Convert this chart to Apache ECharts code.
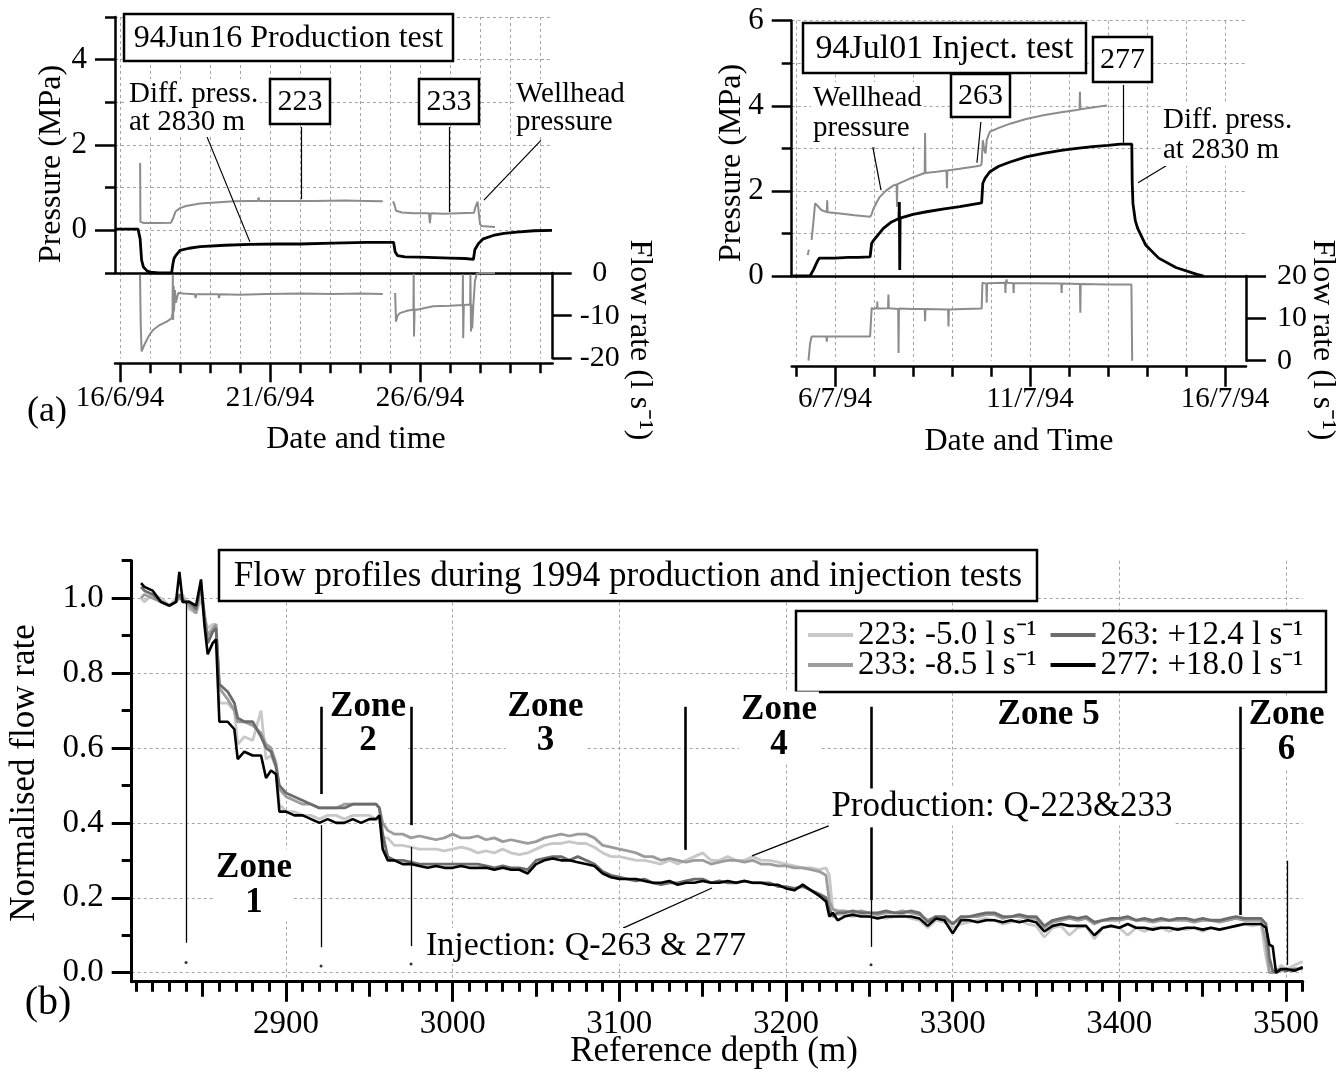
<!DOCTYPE html>
<html>
<head>
<meta charset="utf-8">
<title>Flow profiles during 1994 production and injection tests</title>
<script src="https://cdn.jsdelivr.net/npm/echarts@6.0.0/dist/echarts.min.js"></script>
<style>
html,body{margin:0;padding:0;background:#ffffff;}
#chart{width:1344px;height:1074px;}
</style>
</head>
<body>
<div id="chart"></div>
<script>
// ===== (a) left: 94Jun16 production test (x = day of June 1994) =====
const prodWellheadDays = [16.67,16.68,16.8,17.2,17.7,17.78,17.85,18.0,18.2,18.67,19.3,19.8,20.3,20.6,20.62,20.64,21.5,22.5,23.5,24.2,24.76,24.9,25.1,25.15,25.2,25.4,25.8,26.3,26.33,26.36,26.8,27.3,27.8,27.85,27.92,27.98,28.0,28.05,28.5];
const prodWellheadMPa  = [1.58,0.2,0.17,0.17,0.18,0.3,0.44,0.52,0.57,0.63,0.66,0.68,0.69,0.69,0.77,0.69,0.69,0.69,0.70,0.69,0.68,null,0.68,0.6,0.46,0.42,0.40,0.40,0.17,0.40,0.39,0.40,0.41,0.55,0.67,0.64,0.15,0.1,0.08];
const prodDiffDays = [15.85,16.6,16.67,16.72,16.78,16.9,17.0,17.3,17.72,17.76,17.8,17.85,18.0,18.3,18.67,19.5,20.33,21.2,22.0,23.1,24.2,25.12,25.17,25.25,25.5,26.0,26.5,27.0,27.5,27.78,27.83,27.95,28.11,28.44,28.8,29.22,29.8,30.4];
const prodDiffMPa  = [0.03,0.03,-0.2,-0.7,-0.86,-0.95,-0.98,-1.0,-1.0,-0.8,-0.66,-0.6,-0.47,-0.42,-0.38,-0.35,-0.33,-0.32,-0.32,-0.30,-0.28,-0.28,-0.5,-0.59,-0.62,-0.63,-0.64,-0.65,-0.66,-0.68,-0.45,-0.31,-0.2,-0.12,-0.07,-0.04,-0.01,0.0];
const prodFlowDays = [16.667,16.69,16.72,16.8,16.89,17.0,17.11,17.3,17.56,17.72,17.75,17.76,17.77,17.79,17.8,17.83,17.86,17.94,18.11,18.5,18.52,18.54,19.28,19.3,19.32,20.0,20.89,22.0,23.11,24.0,24.76,24.9,25.17,25.2,25.25,25.33,25.6,25.78,25.79,25.8,25.82,25.89,26.44,27.0,27.42,27.43,27.44,27.46,27.67,27.68,27.7,27.72,27.74,27.78,27.83,27.89,28.0,28.5];
const prodFlowLps  = [-0.4,-12,-18.4,-17,-15.7,-14.3,-13.3,-12.3,-11.4,-10.6,-9.5,-0.4,-11,-3,-9,-4,-7,-4.7,-4.8,-5.0,-5.9,-5.0,-5.0,-5.9,-5.0,-5.1,-4.9,-4.8,-4.9,-4.8,-4.9,null,-4.7,-11.4,-10,-9.4,-8.8,-8.6,-0.2,-14.9,-8.5,-8.6,-7.8,-7.7,-7.5,-0.3,-15.3,-7.5,-7.4,-0.3,-13.7,-7.4,-13.0,-7.3,-2,-0.2,0,0];
const prodDayTicks = [16,17,18,19,20,21,22,23,24,25,26,27,28,29,30];
const prodLabelDays = [16,21,26];
const prodLabels = ['16/6/94','21/6/94','26/6/94'];
const prodPressTicks = [0,2,4];

// ===== (a) right: 94Jul01 injection test (x = day of July 1994) =====
const injWellheadDays = [5.30,5.33,5.36,5.40,5.45,5.49,5.55,5.65,5.79,5.80,5.81,5.82,6.13,6.5,6.9,6.94,6.98,7.08,7.15,7.3,7.5,7.58,7.59,7.60,7.92,8.30,8.31,8.32,8.6,8.86,8.87,8.88,9.2,9.63,9.74,9.76,9.79,9.83,9.86,9.89,9.97,10.2,10.49,10.9,11.34,11.8,12.2,12.27,12.28,12.29,12.6,12.97];
const injWellheadMPa  = [0.49,0.62,null,0.85,1.3,1.71,1.65,1.55,1.50,1.78,1.50,1.50,1.47,1.43,1.39,1.45,1.57,1.75,1.86,2.0,2.13,2.15,1.63,2.16,2.29,2.42,3.36,2.42,2.45,2.48,2.06,2.48,2.52,2.58,2.60,2.65,3.19,2.95,2.88,3.2,3.39,3.48,3.58,3.69,3.78,3.85,3.90,3.91,4.33,3.92,3.96,4.01];
const injDiffDays = [4.92,5.36,5.45,5.55,5.6,6.0,6.34,6.6,6.9,6.94,7.0,7.24,7.45,7.64,7.65,7.66,7.67,8.0,8.35,8.8,9.2,9.5,9.76,9.79,9.85,9.97,10.2,10.49,10.9,11.34,11.8,12.2,12.6,13.0,13.31,13.61,13.62,13.64,13.7,13.76,13.97,14.3,14.74,15.28,15.45];
const injDiffMPa  = [0,0,0.15,0.35,0.42,0.42,0.44,0.44,0.45,0.77,0.85,1.12,1.27,1.35,1.74,0.14,1.36,1.45,1.51,1.58,1.63,1.68,1.72,2.18,2.3,2.45,2.58,2.68,2.8,2.88,2.95,3.0,3.04,3.07,3.1,3.1,2.2,1.7,1.3,1.12,0.72,0.42,0.2,0.04,0.0];
const injFlowDays = [5.32,5.36,5.40,5.6,5.78,5.79,5.80,6.4,6.9,6.93,6.94,7.0,7.08,7.085,7.09,7.36,7.37,7.38,7.62,7.63,7.64,8.0,8.3,8.31,8.32,8.9,8.91,8.92,9.3,9.76,9.78,9.88,9.89,9.9,10.36,10.37,10.38,10.4,10.41,10.57,10.58,10.59,11.0,11.8,11.81,11.82,12.28,12.29,12.30,13.0,13.6,13.62];
const injFlowLps  = [0,4,5.7,5.7,5.7,4.5,5.7,5.7,5.7,5.8,12.5,12.2,12.5,14.0,12.3,12.4,15.6,12.4,12.2,1.8,12.3,12.2,12.2,9.3,12.2,12.1,8.1,12.1,12.2,12.3,18.4,18.2,13.7,18.3,18.4,16.0,18.4,19.2,18.4,18.3,16,18.3,18.3,18.2,16.0,18.2,18.1,11.3,18.1,18.0,18.0,0];
const injDayTicks = [5,6,7,8,9,10,11,12,13,14,15,16];
const injLabelDays = [6,11,16];
const injLabels = ['6/7/94','11/7/94','16/7/94'];
const injPressTicks = [0,2,4,6];

// ===== (b) flow profiles (x = reference depth, m) =====
const depth = [2813,2815,2820,2825,2830,2834,2836,2838,2842,2846,2849,2851,2853,2856,2858,2860,2865,2869,2871,2875,2880,2885,2888,2891,2894,2896,2900,2905,2910,2915,2920,2925,2930,2935,2940,2945,2950,2954,2956,2958,
2961,2965,2970,2975,2980,2985,2990,2995,3000,3005,3010,3015,3020,3025,3030,3035,3040,3045,3050,3055,3060,3065,3070,3075,3080,3085,3090,3095,3100,3105,3110,3115,3120,3125,3130,3135,3140,3145,3150,3155,3160,3165,3170,3175,3180,3185,3190,3195,3200,3205,3210,3215,3220,
3224,3226,3228,3231,
3235,3240,3245,3250,3255,3260,3265,3270,3275,3280,3285,3290,3295,3300,3305,3310,3315,3320,3325,3330,3335,3340,3345,3350,3355,3360,3365,3370,3375,3380,3385,3390,3395,3400,3405,3410,3415,3420,3425,3430,3435,3440,3445,3450,3455,3460,3465,3470,3475,3480,3485,
3488,3490,3492,3494,3497,3500,3505,3510];
const q223 = [1.00,0.99,1.01,1.00,0.98,1.00,1.00,1.01,0.97,0.96,1.00,0.95,0.92,0.93,0.93,0.72,0.72,0.70,0.61,0.63,0.62,0.70,0.57,0.58,0.55,0.45,0.43,0.43,0.42,0.42,0.41,0.42,0.42,0.41,0.42,0.42,0.42,0.41,0.41,0.36,
0.36,0.34,0.34,0.335,0.33,0.33,0.33,0.325,0.33,0.335,0.33,0.32,0.325,0.32,0.33,0.32,0.315,0.32,0.33,0.34,0.345,0.345,0.35,0.345,0.345,0.335,0.32,0.31,0.31,0.305,0.30,0.30,0.295,0.29,0.30,0.29,0.30,0.31,0.32,0.30,0.30,0.31,0.30,0.30,0.31,0.30,0.30,0.295,0.29,0.285,0.28,0.28,0.275,
0.28,0.26,0.17,0.155,
0.155,0.15,0.155,0.15,0.15,0.145,0.15,0.155,0.145,0.14,0.12,0.14,0.135,0.12,0.13,0.135,0.14,0.145,0.14,0.13,0.135,0.14,0.13,0.125,0.095,0.12,0.125,0.10,0.12,0.125,0.09,0.12,0.125,0.12,0.10,0.12,0.11,0.12,0.12,0.11,0.12,0.115,0.12,0.11,0.12,0.115,0.12,0.125,0.13,0.125,0.13,
0.04,0.0,0.0,0.0,0.02,0.01,0.02,0.03];
const q233 = [1.00,1.01,1.00,0.99,0.98,0.99,1.00,1.00,0.98,0.96,1.03,0.96,0.90,0.92,0.93,0.76,0.73,0.70,0.67,0.67,0.66,0.64,0.61,0.60,0.56,0.49,0.47,0.46,0.45,0.45,0.44,0.44,0.44,0.45,0.45,0.45,0.45,0.45,0.44,0.40,
0.38,0.37,0.37,0.36,0.365,0.36,0.355,0.36,0.37,0.36,0.36,0.365,0.355,0.36,0.35,0.355,0.35,0.345,0.35,0.36,0.365,0.37,0.365,0.37,0.37,0.36,0.34,0.335,0.33,0.325,0.32,0.31,0.31,0.30,0.305,0.30,0.295,0.30,0.30,0.29,0.295,0.30,0.30,0.295,0.30,0.29,0.29,0.285,0.285,0.28,0.28,0.275,0.27,
0.26,0.19,0.17,0.165,
0.165,0.16,0.165,0.16,0.155,0.16,0.16,0.165,0.16,0.155,0.14,0.15,0.145,0.13,0.145,0.15,0.15,0.155,0.155,0.145,0.15,0.15,0.145,0.145,0.12,0.135,0.14,0.145,0.14,0.145,0.13,0.14,0.14,0.14,0.145,0.14,0.14,0.135,0.14,0.14,0.14,0.14,0.135,0.14,0.14,0.135,0.14,0.145,0.14,0.14,0.14,
0.08,0.0,0.0,0.01,0.005,0.01,0.005,0.015];
const q263 = [1.03,1.02,1.01,0.99,0.98,0.99,1.01,0.99,0.99,0.97,1.04,0.95,0.88,0.91,0.92,0.77,0.75,0.72,0.68,0.67,0.67,0.63,0.60,0.59,0.55,0.50,0.48,0.47,0.46,0.45,0.44,0.44,0.44,0.44,0.45,0.45,0.45,0.45,0.44,0.37,
0.31,0.30,0.30,0.295,0.29,0.29,0.29,0.29,0.29,0.29,0.29,0.29,0.285,0.28,0.285,0.28,0.28,0.275,0.30,0.305,0.31,0.31,0.30,0.31,0.30,0.29,0.27,0.26,0.255,0.25,0.245,0.25,0.24,0.235,0.24,0.24,0.245,0.25,0.25,0.24,0.245,0.24,0.24,0.245,0.24,0.24,0.24,0.23,0.23,0.225,0.23,0.22,0.21,
0.20,0.17,0.15,0.16,
0.16,0.165,0.16,0.16,0.16,0.165,0.16,0.16,0.165,0.16,0.135,0.15,0.15,0.13,0.15,0.15,0.155,0.16,0.16,0.15,0.15,0.155,0.15,0.15,0.125,0.14,0.145,0.15,0.145,0.15,0.135,0.14,0.145,0.145,0.15,0.14,0.145,0.14,0.145,0.14,0.145,0.145,0.14,0.145,0.14,0.14,0.145,0.15,0.145,0.145,0.145,
0.13,0.04,0.005,0.0,0.01,0.005,0.01,0.01];
const q277 = [1.04,1.03,1.02,0.99,0.98,0.99,1.07,0.99,0.99,0.98,1.05,0.93,0.85,0.88,0.89,0.67,0.67,0.65,0.57,0.59,0.58,0.58,0.52,0.54,0.53,0.43,0.43,0.42,0.42,0.41,0.40,0.41,0.40,0.40,0.41,0.40,0.41,0.41,0.42,0.33,
0.30,0.30,0.29,0.29,0.285,0.28,0.285,0.28,0.28,0.285,0.28,0.28,0.28,0.275,0.28,0.275,0.275,0.265,0.29,0.30,0.305,0.30,0.30,0.295,0.29,0.285,0.265,0.255,0.25,0.25,0.25,0.245,0.24,0.24,0.245,0.235,0.24,0.24,0.245,0.24,0.24,0.245,0.24,0.245,0.24,0.24,0.235,0.235,0.225,0.22,0.235,0.22,0.205,
0.19,0.15,0.16,0.14,
0.15,0.155,0.15,0.15,0.145,0.15,0.15,0.15,0.15,0.145,0.125,0.145,0.14,0.105,0.14,0.14,0.135,0.14,0.14,0.135,0.14,0.135,0.14,0.135,0.11,0.125,0.13,0.125,0.125,0.125,0.10,0.12,0.125,0.12,0.13,0.12,0.12,0.115,0.12,0.12,0.115,0.12,0.12,0.115,0.12,0.115,0.12,0.125,0.13,0.13,0.13,
0.12,0.075,0.07,0.0,0.01,0.01,0.005,0.015];
const profileNames = ['223: -5.0 l s\u207B\u00B9','233: -8.5 l s\u207B\u00B9','263: +12.4 l s\u207B\u00B9','277: +18.0 l s\u207B\u00B9'];
const depthMajorTicks = [2900,3000,3100,3200,3300,3400,3500];
const depthMidTicks = [2850,2950,3050,3150,3250,3350,3450];
const nfMinorTicks = [0,0.1,0.2,0.3,0.4,0.5,0.6,0.7,0.8,0.9,1.0,1.1];
const nfMajorTicks = [0,0.2,0.4,0.6,0.8,1.0];
const depthMinorTicks = [];
for (let d = 2810; d <= 3510; d += 10) depthMinorTicks.push(d);

// annotation lines, in data units: [x, y1, y2] or [x1, y1, x2, y2]
const zoneThick = [[2921,0.71,0.477],[2975,0.71,0.394],[3139.5,0.71,0.328],[3251,0.71,0.488],[3251,0.388,0.194],[3472.5,0.71,0.154]];
const zoneThin  = [[2840,0.99,0.08],[2921,0.394,0.068],[2975,0.336,0.071],[3251,0.194,0.069],[3501,0.299,0.021]];
const zoneDots  = [[2840,0.027],[2921,0.018],[2975,0.023],[3251,0.021]];
const prodLeaders = [[22.03,2.42,22.03,0.73],[18.9,2.19,20.33,-0.27],[26.97,2.42,26.97,0.43],[30.03,2.11,28.13,0.71]];
const injLeaders  = [[6.97,3.03,7.18,2.02],[9.74,3.62,9.64,2.66],[13.38,4.49,13.38,3.13],[14.62,2.66,13.77,2.19]];
const profLeaders = [[3225.6,0.392,3179.6,0.312],[3102.2,0.119,3155.6,0.226]];

// ---------------------------------------------------------------
const FONT = '"Liberation Serif","Times New Roman",Times,serif';
const GRAY = '#8c8c8c';
const COLORS = ['#c8c8c8','#9c9c9c','#6c6c6c','#000000'];
const zip = (a, b) => a.map((x, i) => [x, b[i]]);
const dash = {show:true, lineStyle:{color:'#a4a4a4', width:1, type:[3,3]}};
const noSplit = {show:false};
const aLine = w => ({show:true, onZero:false, lineStyle:{color:'#000', width:w}});
const noLine = {show:false, onZero:false};
const tick = (len, w, extra) => Object.assign({show:true, inside:false, length:len, lineStyle:{color:'#000', width:w}}, extra || {});
const lbl = (size, extra) => Object.assign({show:true, color:'#000', fontFamily:FONT, fontSize:size}, extra || {});

const PROD_MIN = 15.833, PROD_MAX = 30.423;
const INJ_MIN = 4.89, INJ_MAX = 16.538;
const DEP_MIN = 2807.4, DEP_MAX = 3510;
const NF_MIN = -0.024, NF_MAX = 1.1;

const xAxis = [
  {gridIndex:0, type:'value', position:'bottom', min:PROD_MIN, max:PROD_MAX, axisLine:aLine(2.5), axisTick:{show:false, customValues:prodDayTicks}, axisLabel:{show:false}, splitLine:dash},
  {gridIndex:1, type:'value', position:'bottom', offset:5, min:PROD_MIN, max:PROD_MAX, axisLine:aLine(2.5), axisTick:tick(10,2.5,{customValues:prodDayTicks}), axisLabel:{show:false}, splitLine:dash},
  {gridIndex:1, type:'value', position:'bottom', offset:5, min:PROD_MIN, max:PROD_MAX, axisLine:noLine, axisTick:tick(19,2.5,{customValues:prodLabelDays}), axisLabel:lbl(29,{customValues:prodLabelDays, margin:21, formatter:v => prodLabels[prodLabelDays.indexOf(v)]}), splitLine:noSplit},
  {gridIndex:2, type:'value', position:'bottom', min:INJ_MIN, max:INJ_MAX, axisLine:aLine(2.5), axisTick:{show:false, customValues:injDayTicks}, axisLabel:{show:false}, splitLine:dash},
  {gridIndex:3, type:'value', position:'bottom', offset:6, min:INJ_MIN, max:INJ_MAX, axisLine:aLine(2.5), axisTick:tick(10,2.5,{customValues:injDayTicks}), axisLabel:{show:false}, splitLine:dash},
  {gridIndex:3, type:'value', position:'bottom', offset:6, min:INJ_MIN, max:INJ_MAX, axisLine:noLine, axisTick:tick(20,2.5,{customValues:injLabelDays}), axisLabel:lbl(29,{customValues:injLabelDays, margin:18, formatter:v => injLabels[injLabelDays.indexOf(v)]}), splitLine:noSplit},
  {gridIndex:4, type:'value', position:'bottom', min:DEP_MIN, max:DEP_MAX, axisLine:aLine(3), axisTick:tick(10,3,{customValues:depthMinorTicks}), axisLabel:{show:false}, splitLine:noSplit},
  {gridIndex:4, type:'value', position:'bottom', min:DEP_MIN, max:DEP_MAX, axisLine:noLine, axisTick:tick(15,3,{customValues:depthMidTicks}), axisLabel:{show:false}, splitLine:noSplit},
  {gridIndex:4, type:'value', position:'bottom', min:DEP_MIN, max:DEP_MAX, axisLine:noLine, axisTick:tick(20,3,{customValues:depthMajorTicks}), axisLabel:lbl(33,{customValues:depthMajorTicks, margin:26, formatter:v => String(v)}), splitLine:dash}
];

const yAxis = [
  {gridIndex:0, type:'value', position:'left', min:-1, max:5, interval:1, axisLine:aLine(2.5), axisTick:tick(10,2.5), axisLabel:{show:false}, splitLine:dash},
  {gridIndex:0, type:'value', position:'left', min:-1, max:5, axisLine:noLine, axisTick:tick(20,2.5,{customValues:prodPressTicks}), axisLabel:lbl(31,{customValues:prodPressTicks, margin:28}), splitLine:noSplit},
  {gridIndex:1, type:'value', position:'right', min:-20, max:0, interval:10, axisLine:aLine(2.5), axisTick:tick(19,2.5), axisLabel:lbl(30,{align:'center', margin:47}), splitLine:noSplit},
  {gridIndex:2, type:'value', position:'left', min:0, max:6, interval:1, axisLine:aLine(2.5), axisTick:tick(10,2.5), axisLabel:{show:false}, splitLine:dash},
  {gridIndex:2, type:'value', position:'left', min:0, max:6, axisLine:noLine, axisTick:tick(20,2.5,{customValues:injPressTicks}), axisLabel:lbl(31,{customValues:injPressTicks, margin:28}), splitLine:noSplit},
  {gridIndex:3, type:'value', position:'right', min:0, max:20, interval:10, axisLine:aLine(2.5), axisTick:tick(20,2.5), axisLabel:lbl(30,{margin:31}), splitLine:noSplit},
  {gridIndex:4, type:'value', position:'left', min:NF_MIN, max:NF_MAX, axisLine:aLine(3), axisTick:tick(10,3,{customValues:nfMinorTicks}), axisLabel:{show:false}, splitLine:noSplit},
  {gridIndex:4, type:'value', position:'left', min:NF_MIN, max:NF_MAX, axisLine:noLine, axisTick:tick(20,3,{customValues:nfMajorTicks}), axisLabel:lbl(33,{customValues:nfMajorTicks, margin:28, formatter:v => v.toFixed(1)}), splitLine:dash}
];

function segML(items) {
  return {silent:true, symbol:['none','none'], animation:false, label:{show:false},
    emphasis:{disabled:true}, lineStyle:{color:'#000', width:1.2, type:'solid'}, data:items};
}
const leaderPairs = list => list.map(l => [{coord:[l[0], l[1]]}, {coord:[l[2], l[3]]}]);
const vertPairs = (list, w) => list.map(z => [{coord:[z[0], z[1]], lineStyle:{color:'#000', width:w, type:'solid'}}, {coord:[z[0], z[2]], lineStyle:{color:'#000', width:w, type:'solid'}}]);

const lineS = (xi, yi, data, color, w, extra) => Object.assign({type:'line', xAxisIndex:xi, yAxisIndex:yi, data, symbol:'none', showSymbol:false, connectNulls:false, animation:false, lineStyle:{color, width:w}, itemStyle:{color}, emphasis:{disabled:true}}, extra || {});

const profData = [q223, q233, q263, q277];
const series = [
  lineS(0, 0, zip(prodWellheadDays, prodWellheadMPa), GRAY, 2, {markLine:segML(leaderPairs(prodLeaders))}),
  lineS(0, 0, zip(prodDiffDays, prodDiffMPa), '#000', 2.8),
  lineS(1, 2, zip(prodFlowDays, prodFlowLps), GRAY, 2),
  lineS(3, 3, zip(injWellheadDays, injWellheadMPa), GRAY, 2, {markLine:segML(leaderPairs(injLeaders))}),
  lineS(3, 3, zip(injDiffDays, injDiffMPa), '#000', 2.8),
  lineS(4, 5, zip(injFlowDays, injFlowLps), GRAY, 2)
];
profData.forEach((arr, i) => {
  const extra = {name:profileNames[i]};
  if (i === 3) extra.markLine = segML(vertPairs(zoneThick, 2.6).concat(vertPairs(zoneThin, 1.3)).concat(leaderPairs(profLeaders)));
  series.push(lineS(6, 6, zip(depth, arr), COLORS[i], i === 3 ? 2.6 : 2.8, extra));
});
series.push({type:'scatter', xAxisIndex:6, yAxisIndex:6, data:zoneDots, symbol:'circle', symbolSize:3, itemStyle:{color:'#000'}, silent:true, animation:false});

function tx(x, y, text, size, o) {
  o = o || {};
  const style = {text, fontFamily:FONT, fontSize:size, fontWeight:o.bold ? 'bold' : 'normal', fill:'#000',
    align:o.align || 'center', verticalAlign:'middle'};
  if (o.lh) style.lineHeight = o.lh;
  if (o.bg) { style.backgroundColor = '#fff'; style.padding = [1, 2]; }
  return {type:'text', x, y, rotation:o.rot || 0, z:100, silent:true, style};
}
function box(x, y, w, h, text, size, z) {
  const out = [{type:'rect', z:z || 99, silent:true, shape:{x, y, width:w, height:h}, style:{fill:'#fff', stroke:'#000', lineWidth:2.5}}];
  if (text) out.push(tx(x + w / 2, y + h / 2 + 1, text, size));
  return out;
}

const elements = [].concat(
  box(124, 14, 329, 47, '94Jun16 Production test', 32),
  box(270, 79, 60, 45, '223', 30),
  box(419, 79, 60, 45, '233', 30),
  box(803, 23, 283, 50, '94Jul01 Inject. test', 34),
  box(951, 74, 59, 43, '263', 30),
  box(1093, 37, 59, 45, '277', 30),
  box(219, 550, 818, 51, 'Flow profiles during 1994 production and injection tests', 35),
  box(796, 611, 530, 81, '', 0, 3),
  [
    tx(127, 108, 'Diff. press.\nat 2830 m', 29, {align:'left', lh:28, bg:true}),
    tx(514, 108, 'Wellhead\npressure', 29, {align:'left', lh:28, bg:true}),
    tx(811, 113, 'Wellhead\npressure', 29, {align:'left', lh:30, bg:true}),
    tx(1161, 135, 'Diff. press.\nat 2830 m', 29, {align:'left', lh:30, bg:true}),
    tx(52, 164, 'Pressure (MPa)', 32, {rot:Math.PI / 2}),
    tx(732, 163, 'Pressure (MPa)', 32, {rot:Math.PI / 2}),
    tx(639, 340, 'Flow rate (l s\u207B\u00B9)', 32, {rot:-Math.PI / 2}),
    tx(1322, 340, 'Flow rate (l s\u207B\u00B9)', 32, {rot:-Math.PI / 2}),
    tx(47, 412, '(a)', 36),
    tx(356, 440, 'Date and time', 32),
    tx(1019, 442, 'Date and Time', 32),
    tx(254, 885.5, 'Zone\n1', 35, {bold:true, lh:35, bg:true}),
    tx(368, 723.5, 'Zone\n2', 35, {bold:true, lh:34, bg:true}),
    tx(545.5, 723.5, 'Zone\n3', 35, {bold:true, lh:34, bg:true}),
    tx(779, 727.5, 'Zone\n4', 35, {bold:true, lh:35, bg:true}),
    tx(1048.6, 715, 'Zone 5', 35, {bold:true, bg:true}),
    tx(1286.6, 732.5, 'Zone\n6', 35, {bold:true, lh:35, bg:true}),
    tx(1002, 807, 'Production: Q-223&233', 35, {bg:true}),
    tx(586, 946, 'Injection: Q-263 & 277', 34, {bg:true}),
    tx(48, 1003, '(b)', 40),
    tx(714, 1052, 'Reference depth (m)', 35),
    tx(25, 773, 'Normalised flow rate', 35, {rot:Math.PI / 2})
  ]
);

const legendBase = {
  orient:'horizontal', left:808, padding:0, itemGap:14, itemWidth:45, itemHeight:4,
  icon:'rect', selectedMode:false, z:200,
  textStyle:{fontFamily:FONT, fontSize:33, color:'#000', lineHeight:33}
};

const option = {
  animation:false,
  backgroundColor:'#ffffff',
  textStyle:{fontFamily:FONT, color:'#000'},
  grid:[
    {left:115, top:17, width:437.7, height:256},
    {left:115, top:273, width:437.7, height:85.3},
    {left:791.7, top:20.7, width:454.3, height:255.3},
    {left:791.7, top:276, width:454.3, height:84.7},
    {left:131.7, top:560.7, width:1171, height:421}
  ],
  xAxis, yAxis, series,
  legend:[
    Object.assign({}, legendBase, {data:[profileNames[0], profileNames[2]], top:618.5}),
    Object.assign({}, legendBase, {data:[profileNames[1], profileNames[3]], top:648.5})
  ],
  graphic:{elements}
};

const chart = echarts.init(document.getElementById('chart'), null, {renderer:'canvas'});
chart.setOption(option);
</script>
</body>
</html>
